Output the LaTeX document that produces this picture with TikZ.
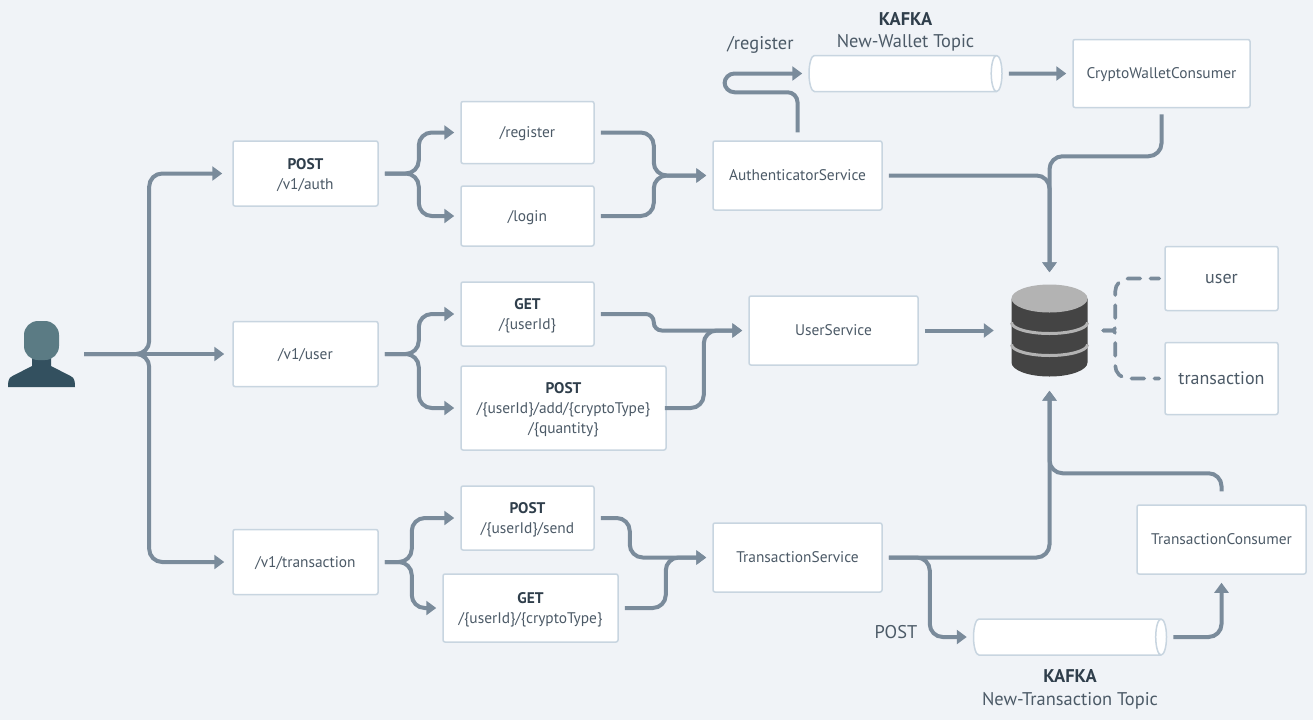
\documentclass[tikz,border=0pt]{standalone}
\usepackage{fontspec}
\setmainfont{PT Sans}
\usetikzlibrary{arrows.meta,shapes.geometric}
\definecolor{bgcol}{HTML}{F0F3F7}
\definecolor{edgecol}{HTML}{C8D5E0}
\definecolor{linecol}{HTML}{7A8B9B}
\definecolor{textcol}{HTML}{4C5A67}
\definecolor{titlecol}{HTML}{2F3E4B}
\definecolor{dbdark}{HTML}{444444}
\definecolor{dblight}{HTML}{B3B3B3}
\definecolor{headcol}{HTML}{5B7B84}
\definecolor{bodycol}{HTML}{33505F}
\newcommand{\boxtitle}[1]{{\bfseries\color{titlecol}#1}}
\begin{document}
\begin{tikzpicture}[x=1pt, y=1pt,
	box/.style = {draw=edgecol, fill=white, line width=1.5pt, rounded corners=2pt, align=center, inner sep=0pt, text depth=-1.5pt, text=textcol, font=\fontsize{15.4}{20}\selectfont},
	epbox/.style = {box, minimum width=145pt, minimum height=65pt},
	pathbox/.style = {box, minimum width=133pt, minimum height=62pt},
	svcbox/.style = {box, minimum width=169pt, minimum height=69pt},
	tablebox/.style = {box, minimum width=113pt, font=\fontsize{18}{20}\selectfont},
	topic/.style = {cylinder, draw=edgecol, fill=white, line width=1.5pt, shape aspect=0.3, inner xsep=0pt, inner ysep=18pt, minimum height=193pt},
	lbl/.style = {text=textcol, inner sep=0pt, font=\fontsize{18.4}{20}\selectfont},
	conn/.style = {draw=linecol, line width=4pt, rounded corners=13pt, shorten <=6pt, shorten >=6pt, -{Triangle[length=10pt,width=14pt]}},
	dashconn/.style = {draw=linecol, line width=3.6pt, line cap=round, shorten >=5pt, dash pattern=on 13pt off 10pt}]
	\fill[bgcol] (0,0) rectangle (1313,-720);
	\useasboundingbox (0,0) rectangle (1313,-720);

	\node[epbox] (auth) at (305.5,-173.5) {\boxtitle{POST}\\/v1/auth};
	\node[epbox,node distance=180.5pt] (vuser) [below of=auth] {/v1/user};
	\node[epbox,node distance=208pt] (vtx) [below of=vuser] {/v1/transaction};
	\node[inner sep=0pt,minimum width=67pt,minimum height=66pt,node distance=264pt] (person) [left of=vuser] {};

	\node[pathbox,node distance=222pt] (register) [right of=auth,yshift=41pt] {/register};
	\node[pathbox,node distance=83.5pt,minimum height=60pt] (login) [below of=register] {/login};
	\node[pathbox,node distance=222pt,minimum height=64pt] (getuser) [right of=vuser,yshift=40pt] {\boxtitle{GET}\\/\{userId\}};
	\node[box,node distance=94pt,minimum width=205pt,minimum height=84pt] (postadd) [below of=getuser,xshift=36pt] {\boxtitle{POST}\\/\{userId\}/add/\{cryptoType\}\\/\{quantity\}};
	\node[pathbox,node distance=222pt,minimum height=64pt] (postsend) [right of=vtx,yshift=44pt] {\boxtitle{POST}\\/\{userId\}/send};
	\node[box,node distance=90pt,minimum width=175pt,minimum height=68pt] (gettype) [below of=postsend,xshift=3pt] {\boxtitle{GET}\\/\{userId\}/\{cryptoType\}};

	\node[svcbox,node distance=492pt] (authsvc) [right of=auth,yshift=-2pt] {AuthenticatorService};
	\node[svcbox,node distance=528pt] (usersvc) [right of=vuser,yshift=23.5pt] {UserService};
	\node[svcbox,node distance=492pt] (txsvc) [right of=vtx,yshift=4.5pt] {TransactionService};

	\node[topic,node distance=102pt] (walletq) [above of=authsvc,xshift=108pt,anchor=shape center] {};
	\coordinate (walletmid) at (walletq.shape center);
	\node[svcbox,node distance=256pt,minimum width=177pt,minimum height=68pt] (cwc) [right of=walletmid] {CryptoWalletConsumer};
	\node[topic,node distance=79.5pt] (txq) [below of=txsvc,xshift=272.5pt,anchor=shape center] {};
	\coordinate (txmid) at (txq.shape center);
	\node[svcbox,node distance=424pt] (txc) [right of=txsvc,yshift=18pt] {TransactionConsumer};

	\node[inner sep=0pt,minimum width=77pt,minimum height=92pt,node distance=216pt] (db) [right of=usersvc] {};
	\node[tablebox,node distance=172pt,minimum height=64pt] (tuser) [right of=db,yshift=52pt] {user};
	\node[tablebox,node distance=100pt,minimum height=72pt] (ttx) [below of=tuser] {transaction};

	\node[lbl,node distance=31pt] (wname) [above of=walletmid] {New-Wallet Topic};
	\node[lbl,node distance=23pt] (wkafka) [above of=wname] {\boxtitle{KAFKA}};
	\node[lbl,node distance=145pt] (wpath) [left of=wname,yshift=-2pt] {/register};
	\node[lbl,node distance=39pt] (tkafka) [below of=txmid] {\boxtitle{KAFKA}};
	\node[lbl,node distance=25pt] (tname) [below of=tkafka] {New-Transaction Topic};
	\node[lbl,node distance=174pt] (tpost) [left of=txmid,yshift=5pt] {POST};

	% user icon
	\begin{scope}[shift={(person.center)}]
		\fill[bodycol] (-9.5,-4) -- (-9.5,-12) -- (-29,-22) to [out=200,in=90] (-33.5,-33) -- (33.5,-33) to [out=90,in=-20] (29,-22) -- (9.5,-12) -- (9.5,-4) -- cycle;
		\fill[headcol,rounded corners=14pt] (-17.5,33) rectangle (17.5,-6);
	\end{scope}

	% database
	\begin{scope}[shift={(db.center)}]
		\fill[dbdark] (-38,32) -- (-38,-32) arc [start angle=180,end angle=360,x radius=38pt,y radius=14pt] -- (38,32) -- cycle;
		\fill[dblight] (0,32) ellipse [x radius=38pt,y radius=14pt];
		\draw[dblight,line width=3pt] (-38,8) arc [start angle=180,end angle=360,x radius=38pt,y radius=11pt];
		\draw[dblight,line width=3pt] (-38,-14) arc [start angle=180,end angle=360,x radius=38pt,y radius=11pt];
	\end{scope}

	\draw[conn,shorten <=9pt,shorten >=10pt] (person.east) -- ++(74,0) |- (auth.west);
	\draw[conn,shorten <=9pt,shorten >=8pt] (person.east) -- (vuser.west);
	\draw[conn,shorten <=9pt,shorten >=8pt] (person.east) -- ++(74,0) |- (vtx.west);

	\draw[conn] (auth.east) -- ++(40,0) |- (register.west);
	\draw[conn] (auth.east) -- ++(40,0) |- (login.west);
	\draw[conn] (vuser.east) -- ++(40,0) |- (getuser.west);
	\draw[conn] (vuser.east) -- ++(40,0) |- (postadd.west);
	\draw[conn] (vtx.east) -- ++(33,0) |- (postsend.west);
	\draw[conn] (vtx.east) -- ++(33,0) |- (gettype.west);

	\draw[conn] (register.east) -- ++(59,0) |- (authsvc.west);
	\draw[conn] (login.east) -- ++(59,0) |- (authsvc.west);
	\draw[conn,rounded corners=8pt] (getuser.east) -- ++(59,0) |- (usersvc.west);
	\draw[conn,shorten <=-2pt] (postadd.east) -- ++(37,0) |- (usersvc.west);
	\draw[conn] (postsend.east) -- ++(35,0) |- (txsvc.west);
	\draw[conn] (gettype.east) -- ++(47,0) |- (txsvc.west);

	\draw[conn,rounded corners=10pt,shorten <=8pt] (authsvc.north) -- ++(0,48) -- ++(-73,0) |- (walletq.west);
	\draw[conn] (walletq.east) -- (cwc.west);
	\draw[conn,shorten >=12pt] (authsvc.east) -| (db.north);
	\draw[conn,shorten >=12pt] (cwc.south) -- ++(0,-48) -| (db.north);
	\draw[conn,shorten >=17pt] (usersvc.east) -- (db.west);
	\draw[conn,shorten >=14pt] (txsvc.east) -| (db.south);
	\draw[conn,shorten <=13pt,shorten >=14pt] (txc.north) -- ++(0,31) -| (db.south);
	\draw[conn] (txsvc.east) -- ++(47,0) |- (txq.west);
	\draw[conn,shorten >=8pt] (txq.east) -| (txc.south);

	\draw[dashconn,shorten <=15pt,rounded corners=3pt] (db.east) -- ++(27,0) [rounded corners=13pt] |- (tuser.west);
	\draw[dashconn,shorten <=15pt,rounded corners=3pt] (db.east) -- ++(27,0) [rounded corners=13pt] |- (ttx.west);
\end{tikzpicture}
\end{document}
